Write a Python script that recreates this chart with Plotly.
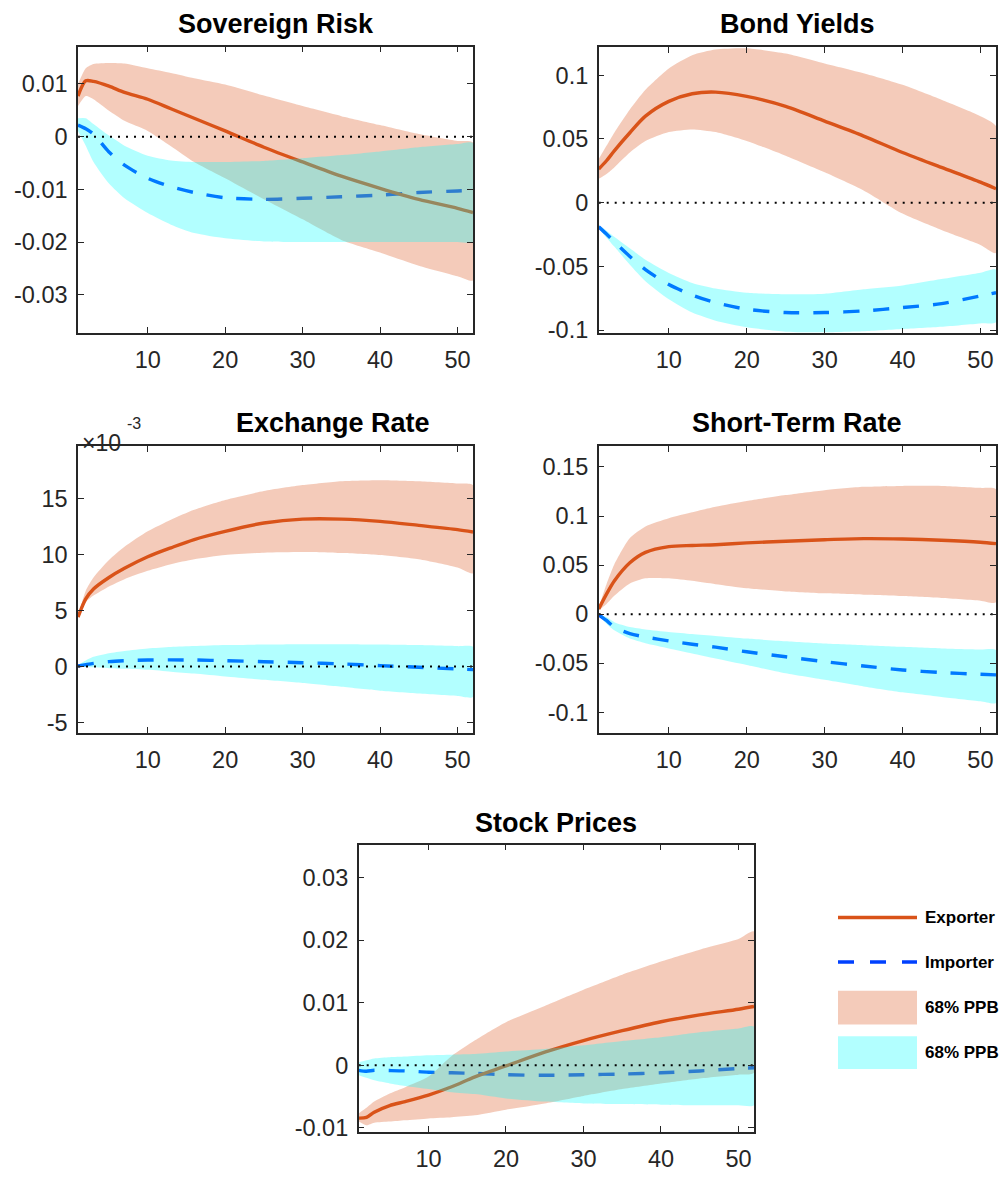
import plotly.graph_objects as go

# ---------------- data ----------------
X = [1, 2, 3, 5, 7, 10, 13, 16, 20, 25, 30, 35, 40, 45, 50, 52]

# Sovereign Risk
sr_exp = [0.0077, 0.0106, 0.0105, 0.0096, 0.0084, 0.0071, 0.0053, 0.0035, 0.0011, -0.0020, -0.0048, -0.0075, -0.0098, -0.0119, -0.0136, -0.0144]
sr_exp_hi = [0.0100, 0.0130, 0.0138, 0.0140, 0.0139, 0.0130, 0.0121, 0.0111, 0.0099, 0.0078, 0.0058, 0.0039, 0.0022, 0.0005, -0.0008, -0.0011]
sr_exp_lo = [0.0058, 0.0077, 0.0071, 0.0049, 0.0030, 0.0011, -0.0018, -0.0048, -0.0079, -0.0119, -0.0157, -0.0196, -0.0220, -0.0245, -0.0265, -0.0273]
sr_imp = [0.0022, 0.0015, 0.0005, -0.0029, -0.0054, -0.0079, -0.0095, -0.0106, -0.0116, -0.0119, -0.0117, -0.0114, -0.0111, -0.0106, -0.0103, -0.0102]
sr_imp_hi = [0.0035, 0.0035, 0.0024, 0.0002, -0.0017, -0.0036, -0.0045, -0.0048, -0.0048, -0.0046, -0.0041, -0.0035, -0.0028, -0.0020, -0.0014, -0.0012]
sr_imp_lo = [0.0011, -0.0017, -0.0048, -0.0089, -0.0117, -0.0145, -0.0167, -0.0183, -0.0193, -0.0199, -0.0200, -0.0200, -0.0200, -0.0200, -0.0200, -0.0200]

# Bond Yields
by_exp = [0.0264, 0.0329, 0.0407, 0.0549, 0.0679, 0.0795, 0.0855, 0.0868, 0.0834, 0.0756, 0.0640, 0.0523, 0.0394, 0.0277, 0.0161, 0.0109]
by_exp_hi = [0.0342, 0.0446, 0.0549, 0.0731, 0.0886, 0.1054, 0.1158, 0.1202, 0.1212, 0.1171, 0.1093, 0.1016, 0.0925, 0.0808, 0.0679, 0.0601]
by_exp_lo = [0.0187, 0.0225, 0.0277, 0.0394, 0.0484, 0.0554, 0.0575, 0.0554, 0.0484, 0.0368, 0.0238, 0.0096, -0.0086, -0.0215, -0.0332, -0.0396]
by_imp = [-0.0189, -0.0246, -0.0306, -0.0422, -0.0526, -0.0643, -0.0725, -0.0785, -0.0837, -0.0863, -0.0863, -0.0850, -0.0824, -0.0793, -0.0733, -0.0707]
by_imp_hi = [-0.0176, -0.0220, -0.0267, -0.0358, -0.0448, -0.0552, -0.0630, -0.0674, -0.0707, -0.0720, -0.0715, -0.0680, -0.0650, -0.0600, -0.0550, -0.0526]
by_imp_lo = [-0.0202, -0.0275, -0.0345, -0.0487, -0.0617, -0.0759, -0.0863, -0.0927, -0.0979, -0.1013, -0.1018, -0.1010, -0.0992, -0.0974, -0.0948, -0.0940]

# Exchange Rate (units of 1e-3)
er_exp = [4.42, 6.04, 6.93, 7.96, 8.78, 9.81, 10.61, 11.35, 12.08, 12.82, 13.17, 13.17, 12.97, 12.61, 12.23, 12.02]
er_exp_hi = [4.42, 6.78, 7.96, 9.52, 10.70, 12.08, 13.12, 14.00, 14.88, 15.68, 16.21, 16.56, 16.65, 16.56, 16.36, 16.21]
er_exp_lo = [4.42, 5.75, 6.34, 7.16, 7.81, 8.55, 9.14, 9.58, 9.96, 10.17, 10.23, 10.14, 9.96, 9.58, 8.84, 8.34]
er_imp = [0.06, 0.18, 0.29, 0.45, 0.53, 0.59, 0.60, 0.59, 0.53, 0.44, 0.35, 0.24, 0.09, -0.06, -0.21, -0.27]
er_imp_hi = [0.15, 0.55, 0.88, 1.20, 1.40, 1.62, 1.75, 1.83, 1.92, 1.97, 2.00, 2.00, 1.97, 1.92, 1.83, 1.77]
er_imp_lo = [0.00, -0.03, -0.06, -0.14, -0.20, -0.29, -0.45, -0.62, -0.88, -1.18, -1.47, -1.80, -2.15, -2.40, -2.62, -2.71]

# Short-Term Rate
st_exp = [0.0054, 0.0205, 0.0339, 0.0524, 0.0630, 0.0688, 0.0700, 0.0708, 0.0726, 0.0743, 0.0759, 0.0770, 0.0766, 0.0753, 0.0733, 0.0719]
st_exp_hi = [0.0070, 0.0306, 0.0507, 0.0776, 0.0894, 0.0978, 0.1038, 0.1095, 0.1153, 0.1213, 0.1263, 0.1297, 0.1307, 0.1307, 0.1287, 0.1274]
st_exp_lo = [0.0037, 0.0104, 0.0188, 0.0313, 0.0366, 0.0366, 0.0340, 0.0306, 0.0265, 0.0232, 0.0212, 0.0198, 0.0185, 0.0165, 0.0138, 0.0121]
st_imp = [-0.0007, -0.0064, -0.0131, -0.0198, -0.0232, -0.0272, -0.0306, -0.0336, -0.0383, -0.0434, -0.0484, -0.0528, -0.0568, -0.0595, -0.0612, -0.0618]
st_imp_hi = [0.0000, -0.0030, -0.0081, -0.0131, -0.0155, -0.0181, -0.0202, -0.0222, -0.0249, -0.0276, -0.0299, -0.0316, -0.0333, -0.0349, -0.0360, -0.0366]
st_imp_lo = [-0.0013, -0.0097, -0.0165, -0.0249, -0.0296, -0.0349, -0.0400, -0.0451, -0.0517, -0.0602, -0.0669, -0.0736, -0.0796, -0.0843, -0.0887, -0.0904]

# Stock Prices
sp_exp = [-0.00844, -0.00834, -0.0075, -0.00644, -0.0058, -0.00475, -0.00343, -0.00185, -0.0001, 0.0021, 0.00396, 0.00554, 0.00697, 0.00807, 0.00897, 0.0094]
sp_exp_hi = [-0.0077, -0.0068, -0.0058, -0.0045, -0.0035, -0.0018, 0.0015, 0.0040, 0.0069, 0.0095, 0.0121, 0.0145, 0.0166, 0.0185, 0.0202, 0.0214]
sp_exp_lo = [-0.0090, -0.0096, -0.0092, -0.0090, -0.0088, -0.0085, -0.0083, -0.0080, -0.0071, -0.0061, -0.0049, -0.0038, -0.0029, -0.0021, -0.0015, -0.0012]
sp_imp = [-0.0008, -0.00095, -0.0008, -0.00084, -0.0009, -0.0011, -0.0012, -0.0013, -0.0015, -0.0016, -0.0015, -0.0014, -0.0012, -0.0009, -0.0005, -0.0004]
sp_imp_hi = [0.0005, 0.0008, 0.0011, 0.0013, 0.0014, 0.0016, 0.0017, 0.0018, 0.0022, 0.0026, 0.0032, 0.0039, 0.0045, 0.0053, 0.0059, 0.0062]
sp_imp_lo = [-0.0016, -0.0020, -0.0024, -0.0029, -0.0033, -0.0038, -0.0043, -0.0046, -0.0053, -0.0058, -0.0061, -0.0062, -0.0063, -0.0064, -0.0064, -0.0064]

titles = ["Sovereign Risk", "Bond Yields", "Exchange Rate", "Short-Term Rate", "Stock Prices"]
x_ticks = [10, 20, 30, 40, 50]
sr_yticks = [-0.03, -0.02, -0.01, 0, 0.01]
sr_ylabels = ["-0.03", "-0.02", "-0.01", "0", "0.01"]
by_yticks = [-0.1, -0.05, 0, 0.05, 0.1]
by_ylabels = ["-0.1", "-0.05", "0", "0.05", "0.1"]
er_yticks = [-5, 0, 5, 10, 15]
er_ylabels = ["-5", "0", "5", "10", "15"]
st_yticks = [-0.1, -0.05, 0, 0.05, 0.1, 0.15]
st_ylabels = ["-0.1", "-0.05", "0", "0.05", "0.1", "0.15"]
sp_yticks = [-0.01, 0, 0.01, 0.02, 0.03]
sp_ylabels = ["-0.01", "0", "0.01", "0.02", "0.03"]
legend_labels = ["Exporter", "Importer", "68% PPB", "68% PPB"]

# ---------------- styling ----------------
PAGE_W, PAGE_H = 1008, 1180
OFF = 8  # default body margin of the html page
W, H = PAGE_W - 2 * OFF, PAGE_H - 2 * OFF
EXP_COL = "rgb(217,83,25)"
EXP_FILL = "rgba(217,83,25,0.3)"
IMP_COL = "rgb(0,64,255)"
IMP_FILL = "rgba(0,255,255,0.3)"
AX_COL = "#262626"
FONT = "Liberation Sans, Arial, sans-serif"
TICK_SIZE = 23.5
TITLE_SIZE = 27


def fx(p):
    return (p - OFF) / W


def fy(p):
    return 1 - (p - OFF) / H


panels = [
    dict(box=(78, 473, 47, 336), yr=(-0.0372, 0.0171), yt=sr_yticks, yl=sr_ylabels,
         d=(sr_exp, sr_exp_lo, sr_exp_hi, sr_imp, sr_imp_lo, sr_imp_hi), t=(275.5, 24)),
    dict(box=(598.7, 996, 47.7, 336.7), yr=(-0.1026, 0.122), yt=by_yticks, yl=by_ylabels,
         d=(by_exp, by_exp_lo, by_exp_hi, by_imp, by_imp_lo, by_imp_hi), t=(797, 24)),
    dict(box=(78, 473, 451, 740.7), yr=(-5.94, 19.66), yt=er_yticks, yl=er_ylabels,
         d=(er_exp, er_exp_lo, er_exp_hi, er_imp, er_imp_lo, er_imp_hi), t=(332.5, 427)),
    dict(box=(598.7, 996, 451, 740.7), yr=(-0.1212, 0.1709), yt=st_yticks, yl=st_ylabels,
         d=(st_exp, st_exp_lo, st_exp_hi, st_imp, st_imp_lo, st_imp_hi), t=(796.5, 427)),
    dict(box=(358.7, 754, 853.3, 1143.3), yr=(-0.0106, 0.0353), yt=sp_yticks, yl=sp_ylabels,
         d=(sp_exp, sp_exp_lo, sp_exp_hi, sp_imp, sp_imp_lo, sp_imp_hi), t=(555.7, 831)),
]

fig = go.Figure()
annotations = []
layout_axes = {}

for i, p in enumerate(panels):
    n = i + 1
    xa = "x" if n == 1 else f"x{n}"
    ya = "y" if n == 1 else f"y{n}"
    exp, exp_lo, exp_hi, imp, imp_lo, imp_hi = p["d"]
    common = dict(xaxis=xa, yaxis=ya, showlegend=False, hoverinfo="skip")
    # importer line (bottom layer)
    fig.add_trace(go.Scatter(x=X, y=imp, mode="lines",
                             line=dict(color=IMP_COL, width=3.4, dash="16px,14px", shape="spline", smoothing=0.8),
                             **common))
    # exporter band
    fig.add_trace(go.Scatter(x=X + X[::-1], y=exp_hi + exp_lo[::-1], mode="lines", fill="toself",
                             fillcolor=EXP_FILL, line=dict(width=0, shape="spline", smoothing=0.6),
                             **common))
    # exporter line
    fig.add_trace(go.Scatter(x=X, y=exp, mode="lines",
                             line=dict(color=EXP_COL, width=3.4, shape="spline", smoothing=0.8),
                             **common))
    # importer band (top)
    fig.add_trace(go.Scatter(x=X + X[::-1], y=imp_hi + imp_lo[::-1], mode="lines", fill="toself",
                             fillcolor=IMP_FILL, line=dict(width=0, shape="spline", smoothing=0.6),
                             **common))
    # zero reference
    fig.add_trace(go.Scatter(x=[X[0], X[-1]], y=[0, 0], mode="lines",
                             line=dict(color="black", width=2, dash="2px,6px"), **common))

    l, r, t, b = p["box"]
    axis_common = dict(showline=True, linecolor=AX_COL, linewidth=1.5, mirror="ticks",
                       ticks="inside", ticklen=6, tickwidth=1.3, tickcolor=AX_COL,
                       showgrid=False, zeroline=False,
                       tickfont=dict(family=FONT, size=TICK_SIZE, color=AX_COL))
    xkey = "xaxis" if n == 1 else f"xaxis{n}"
    ykey = "yaxis" if n == 1 else f"yaxis{n}"
    layout_axes[xkey] = dict(domain=[fx(l), fx(r)], range=[X[0], X[-1]], tickvals=x_ticks,
                             ticktext=[str(v) for v in x_ticks], anchor=ya,
                             ticklabelstandoff=5, **axis_common)
    layout_axes[ykey] = dict(domain=[fy(b), fy(t)], range=list(p["yr"]), tickvals=p["yt"],
                             ticktext=p["yl"], anchor=xa, ticklabelstandoff=4, **axis_common)
    annotations.append(dict(text=f"<b>{titles[i]}</b>", x=fx(p["t"][0]), y=fy(p["t"][1]),
                            xref="paper", yref="paper", xanchor="center", yanchor="middle",
                            showarrow=False, font=dict(family=FONT, size=TITLE_SIZE, color="black")))

# exponent label for exchange rate
annotations.append(dict(text="×10", x=fx(80), y=fy(448), xref="paper", yref="paper",
                        xanchor="left", yanchor="middle", showarrow=False,
                        font=dict(family=FONT, size=23, color=AX_COL)))
annotations.append(dict(text="-3", x=fx(125), y=fy(428), xref="paper", yref="paper",
                        xanchor="left", yanchor="middle", showarrow=False,
                        font=dict(family=FONT, size=16, color=AX_COL)))

# ---------------- manual legend ----------------
shapes = []
lx0, lx1, ltx = 838, 917, 923
shapes.append(dict(type="line", xref="paper", yref="paper", x0=fx(lx0), x1=fx(lx1), y0=fy(927), y1=fy(927),
                   line=dict(color=EXP_COL, width=3.4)))
shapes.append(dict(type="line", xref="paper", yref="paper", x0=fx(lx0), x1=fx(lx1), y0=fy(972), y1=fy(972),
                   line=dict(color=IMP_COL, width=3.4, dash="16px,16px")))
shapes.append(dict(type="rect", xref="paper", yref="paper", x0=fx(lx0), x1=fx(lx1), y0=fy(1035), y1=fy(1001),
                   fillcolor=EXP_FILL, line=dict(width=0)))
shapes.append(dict(type="rect", xref="paper", yref="paper", x0=fx(lx0), x1=fx(lx1), y0=fy(1080), y1=fy(1047),
                   fillcolor=IMP_FILL, line=dict(width=0)))
for lab, yc in zip(legend_labels, [927, 972, 1018, 1063]):
    annotations.append(dict(text=f"<b>{lab}</b>", x=fx(ltx), y=fy(yc), xref="paper", yref="paper",
                            xanchor="left", yanchor="middle", showarrow=False,
                            font=dict(family=FONT, size=17, color="black")))

fig.update_layout(width=W, height=H, margin=dict(l=0, r=0, t=0, b=0),
                  paper_bgcolor="white", plot_bgcolor="white",
                  annotations=annotations, shapes=shapes, **layout_axes)

fig.write_html("out.html", config={"displayModeBar": False})
